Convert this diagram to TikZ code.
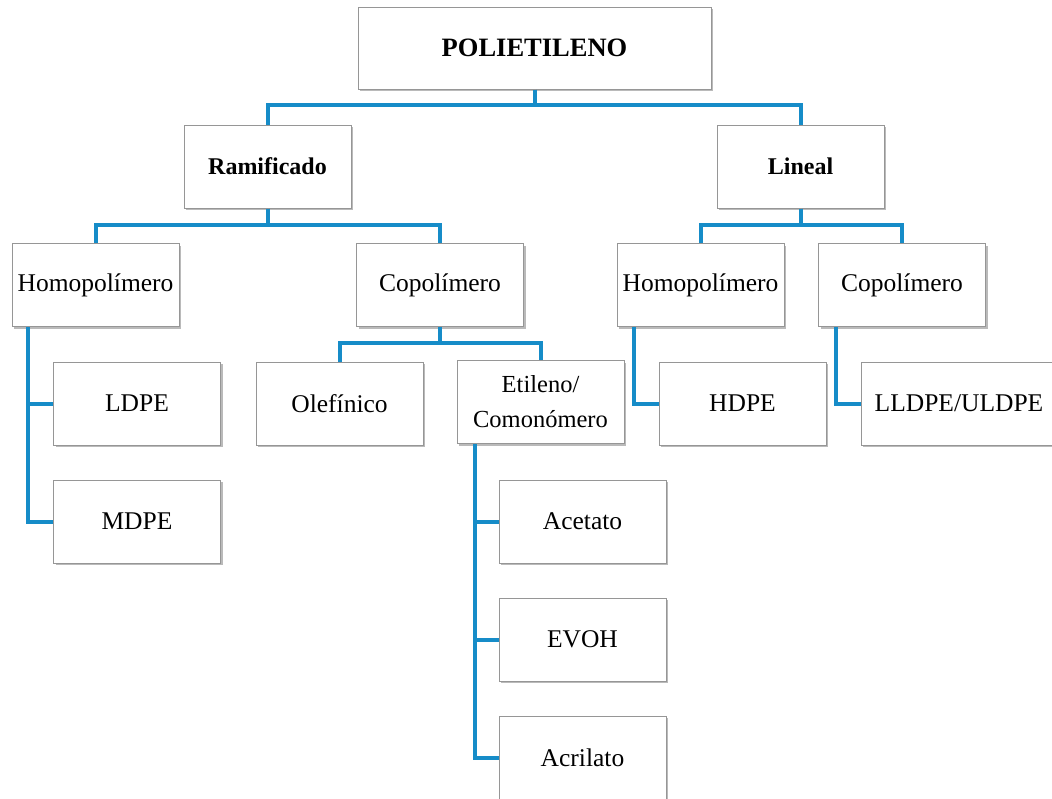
\documentclass[tikz,border=0pt]{standalone}
\usepackage{fontspec}
\setmainfont{Liberation Serif}
\usetikzlibrary{shadows}
\definecolor{connblue}{RGB}{22,140,200}
\definecolor{boxline}{RGB}{150,150,150}
\tikzset{
  box/.style={draw=boxline, line width=1pt, fill=white, minimum width=167pt, minimum height=83pt,
    inner sep=0pt, align=center, font=\fontsize{25.5}{30}\selectfont,
    drop shadow={shadow xshift=2pt, shadow yshift=-2pt, opacity=0.45, fill=black!60}},
  boldbox/.style={box, font=\fontsize{24}{28}\selectfont\bfseries},
  conn/.style={draw=connblue, line width=4pt}
}
\begin{document}
\begin{tikzpicture}[x=1pt,y=-1pt]
\useasboundingbox (0,0) rectangle (1052,798);
\clip (0,0) rectangle (1052,798);
\node[box, minimum width=353pt, minimum height=82pt, font=\fontsize{26.5}{30}\selectfont\bfseries] (poly) at (534.5,48) {POLIETILENO};
\node[boldbox] (ram) at (267.5,166.5) {Ramificado};
\node[boldbox] (lin) at (800.5,166.5) {Lineal};
\node[box] (homL) at (95.5,285) {Homopolímero};
\node[box] (copL) at (440,285) {Copolímero};
\node[box] (homR) at (700.5,285) {Homopolímero};
\node[box] (copR) at (902,285) {Copolímero};
\node[box] (ldpe) at (137,403.5) {LDPE};
\node[box] (mdpe) at (137,521.5) {MDPE};
\node[box] (olef) at (339.5,403.5) {Olefínico};
\node[box, font=\fontsize{24.5}{35}\selectfont] (etil) at (540.5,402) {Etileno/\\Comonómero};
\node[box] (hdpe) at (742.5,403.5) {HDPE};
\node[box, minimum width=196pt] (lld) at (959,403.5) {LLDPE/ULDPE};
\node[box] (acet) at (582.5,521.5) {Acetato};
\node[box] (evoh) at (582.5,639.5) {EVOH};
\node[box] (acri) at (582.5,757.5) {Acrilato};
\draw[conn] (poly.south) -- ++(0,15) -| (ram.north);
\draw[conn] (poly.south) -- ++(0,15) -| (lin.north);
\draw[conn] (ram.south) -- ++(0,16) -| (homL.north);
\draw[conn] (ram.south) -- ++(0,16) -| (copL.north);
\draw[conn] (lin.south) -- ++(0,16) -| (homR.north);
\draw[conn] (lin.south) -- ++(0,16) -| (copR.north);
\draw[conn] (copL.south) -- ++(0,16) -| (olef.north);
\draw[conn] (copL.south) -- ++(0,16) -| (etil.north);
\draw[conn] ([xshift=16pt]homL.south west) |- (ldpe.west);
\draw[conn] ([xshift=16pt]homL.south west) |- (mdpe.west);
\draw[conn] ([xshift=18pt]etil.south west) |- (acet.west);
\draw[conn] ([xshift=18pt]etil.south west) |- (evoh.west);
\draw[conn] ([xshift=18pt]etil.south west) |- (acri.west);
\draw[conn] ([xshift=17pt]homR.south west) |- (hdpe.west);
\draw[conn] ([xshift=18pt]copR.south west) |- (lld.west);
\end{tikzpicture}
\end{document}
